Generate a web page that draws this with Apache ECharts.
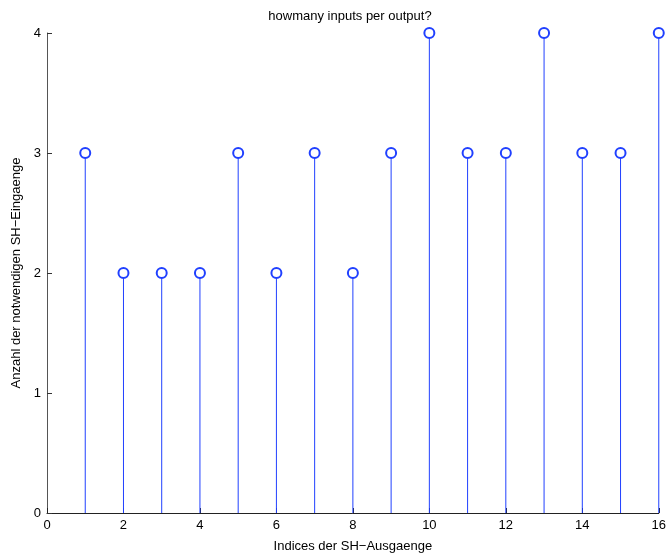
<!DOCTYPE html>
<html><head><meta charset="utf-8">
<script src="https://cdn.jsdelivr.net/npm/echarts@6/dist/echarts.min.js"></script>
<style>html,body{margin:0;padding:0;background:#fff}#c{width:669px;height:558px}</style>
</head><body><div id="c"></div>
<script>
const xIdx = [1,2,3,4,5,6,7,8,9,10,11,12,13,14,15,16];
const counts = [3,2,2,2,3,2,3,2,3,4,3,3,4,3,3,4];
const titleText = 'howmany inputs per output?';
const xName = 'Indices der SH\u2212Ausgaenge';
const yName = 'Anzahl der notwendigen SH\u2212Eingaenge';

const pts = xIdx.map((x,i)=>[x,counts[i]]);
const blue = '#2040ff';
const font = '"Liberation Sans", Arial, sans-serif';
const chart = echarts.init(document.getElementById('c'));
chart.setOption({
  animation:false,
  title:{text:titleText,left:345,top:5,textAlign:'center',textStyle:{fontFamily:font,fontSize:13,fontWeight:'normal',color:'#000'}},
  grid:{left:47,right:8,top:33,bottom:40},
  xAxis:{type:'value',min:0,max:16,interval:2,name:xName,nameLocation:'middle',nameGap:27,
    nameTextStyle:{fontFamily:font,fontSize:13,color:'#000'},
    axisLine:{lineStyle:{color:'#222',width:1}},axisTick:{inside:true,length:5,lineStyle:{color:'#222'}},
    axisLabel:{fontFamily:font,fontSize:13,color:'#000',margin:6},splitLine:{show:false}},
  yAxis:{type:'value',min:0,max:4,interval:1,name:yName,nameLocation:'middle',nameGap:22,
    nameTextStyle:{fontFamily:font,fontSize:13,color:'#000'},
    axisLine:{show:true,lineStyle:{color:'#555',width:1}},axisTick:{show:true,inside:true,length:5,lineStyle:{color:'#333'}},
    axisLabel:{fontFamily:font,fontSize:13,color:'#000',margin:6},splitLine:{show:false}},
  series:[
    {type:'custom',data:pts,renderItem:function(params,api){
      const p0=api.coord([api.value(0),0]);const p1=api.coord([api.value(0),api.value(1)]);
      return {type:'line',shape:{x1:p0[0],y1:p0[1],x2:p1[0],y2:p1[1]+5},style:{stroke:blue,lineWidth:1}};
    },z:2},
    {type:'scatter',data:pts,symbol:'emptyCircle',symbolSize:10,itemStyle:{color:blue,opacity:1,borderWidth:0.9},z:3}
  ]
});
</script></body></html>
